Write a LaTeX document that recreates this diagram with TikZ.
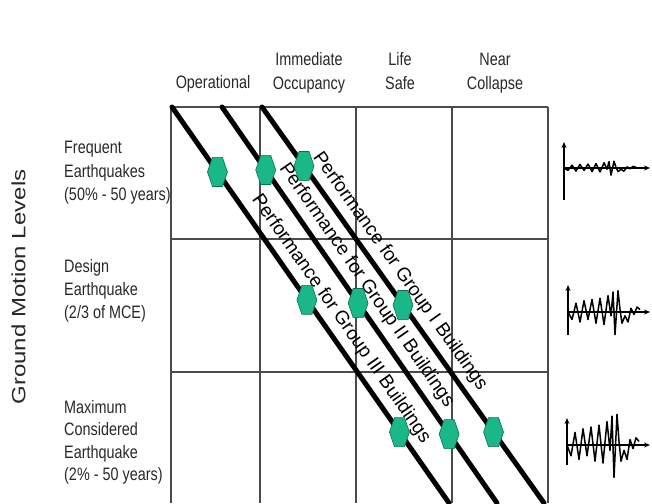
\documentclass[tikz,border=0pt]{standalone}
\usepackage{fontspec}
\setmainfont{Liberation Sans}
\newfontfamily\condfont[FakeStretch=0.8]{Liberation Sans}
\usetikzlibrary{shapes.geometric,arrows.meta}
\definecolor{hexfill}{RGB}{26,183,136}
\definecolor{hexline}{RGB}{16,110,80}
\definecolor{gridgray}{RGB}{75,75,75}
\definecolor{txt}{RGB}{40,40,40}
\newcommand{\quaketrace}[5]{%
  \draw[ax] (#1,#5) -- (#1,#4);
  \draw[ax] (#1,#2) -- (650,#2);
  \begin{scope}[shift={(#1,#2)}, y=#3pt]
    \draw[trace] plot coordinates {(0,0)(4,-0.6)(8,0.7)(12,-0.8)(16,0.9)(20,-0.6)(24,1.0)(28,-0.9)(32,1.1)(36,-1.0)(40,1.3)(43,-0.3)(45,1.6)(47,-1.8)(50,1.7)(52,0.2)(54,-0.9)(57,-0.3)(60,-0.8)(63,0.3)(66,-0.2)(69,0.4)(72,0.2)};
  \end{scope}}
\begin{document}
\begin{tikzpicture}[x=1pt,y=-1pt,
  gridline/.style={gridgray, line width=1.2pt},
  perfline/.style={black, line width=5pt, line cap=round},
  hex/.style={regular polygon, regular polygon sides=6, minimum size=20pt, inner sep=0pt,
    fill=hexfill, draw=hexline, line width=0.6pt, yscale=1.68, transform shape},
  lbl/.style={font=\condfont\fontsize{18}{22}\selectfont, text=txt, inner sep=0pt},
  grp/.style={font=\fontsize{19}{22}\selectfont, text=black, inner sep=0pt, sloped},
  ax/.style={black, line width=1.3pt, -{Stealth[length=6pt,width=5pt]}},
  trace/.style={black, line width=1.5pt, line join=round}
]
\useasboundingbox (0,0) rectangle (652,503);
\clip (0,0) rectangle (652,503);

% grid
\draw[gridline] (171,107) -- (548,107);
\draw[gridline] (170,239) -- (548,239);
\draw[gridline] (170,372) -- (548,372);
\foreach \gx in {171,260,356,452,548} \draw[gridline] (\gx,107) -- (\gx,503);

% performance lines
\coordinate (t3) at (172,107); \coordinate (b3) at (449,503);
\coordinate (t2) at (222,107); \coordinate (b2) at (497,503);
\coordinate (t1) at (262,107); \coordinate (b1) at (544,503);
\draw[perfline] (t3) -- (b3);
\draw[perfline] (t2) -- (b2);
\draw[perfline] (t1) -- (b1);

\path (t1) -- (b1) node[grp, pos=0.440, above=8pt] (g1) {Performance for Group I Buildings};
\path (t2) -- (b2) node[grp, pos=0.475, above=8pt] (g2) {Performance for Group II Buildings};
\path (t3) -- (b3) node[grp, pos=0.560, above=8pt] (g3) {Performance for Group III Buildings};

% hexagons
\path (t3) -- (b3) node[hex, pos=0.164] (h31) {} node[hex, pos=0.487] (h32) {} node[hex, pos=0.821] (h33) {};
\path (t2) -- (b2) node[hex, pos=0.159] (h21) {} node[hex, pos=0.495] (h22) {} node[hex, pos=0.826] (h23) {};
\path (t1) -- (b1) node[hex, pos=0.149] (h11) {} node[hex, pos=0.500] (h12) {} node[hex, pos=0.821] (h13) {};

% column headers
\node[lbl, anchor=base] (hOp) at (213,88) {Operational};
\node[lbl, anchor=base] (hIm1) at (309,65) {Immediate};
\node[lbl, anchor=base] (hIm2) at (309,89) {Occupancy};
\node[lbl, anchor=base] (hLi1) at (400,65) {Life};
\node[lbl, anchor=base] (hLi2) at (400,89) {Safe};
\node[lbl, anchor=base] (hNe1) at (495,65) {Near};
\node[lbl, anchor=base] (hNe2) at (495,89) {Collapse};

% row labels
\node[lbl, anchor=base west] (r1a) at (64,153) {Frequent};
\node[lbl, anchor=base west] (r1b) at (64,177) {Earthquakes};
\node[lbl, anchor=base west] (r1c) at (64,200) {(50\% - 50 years)};
\node[lbl, anchor=base west] (r2a) at (64,272) {Design};
\node[lbl, anchor=base west] (r2b) at (64,295) {Earthquake};
\node[lbl, anchor=base west] (r2c) at (64,318) {(2/3 of MCE)};
\node[lbl, anchor=base west] (r3a) at (64,413) {Maximum};
\node[lbl, anchor=base west] (r3b) at (64,435) {Considered};
\node[lbl, anchor=base west] (r3c) at (64,458) {Earthquake};
\node[lbl, anchor=base west] (r3d) at (64,480) {(2\% - 50 years)};

\node[rotate=90, font=\fontsize{24}{28}\selectfont, text=txt, inner sep=0pt] (gml) at (18.5,287) {\scalebox{1}[0.8]{Ground Motion Levels}};

% seismograms
\quaketrace{564}{168}{4}{142}{200}
\quaketrace{568}{312}{12.5}{285}{335}
\quaketrace{567}{445}{18}{418}{465}
\end{tikzpicture}
\end{document}
